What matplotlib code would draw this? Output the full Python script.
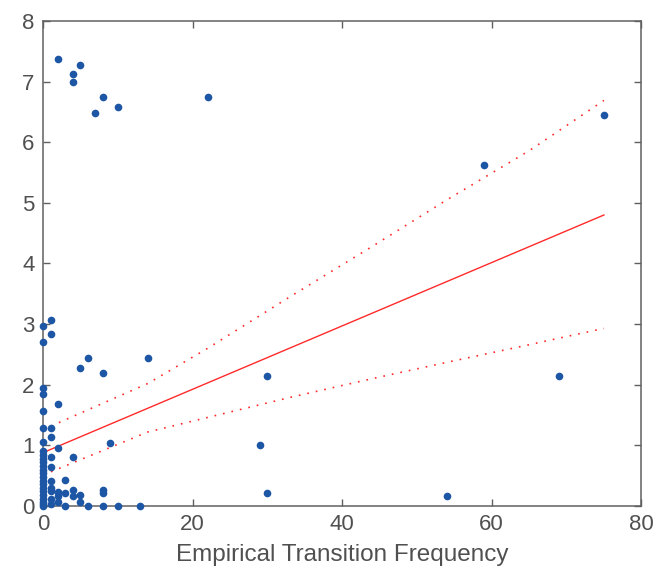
import numpy as np
import matplotlib
matplotlib.use('Agg')
import matplotlib.pyplot as plt

plt.rcParams['font.family'] = ['Liberation Sans', 'DejaVu Sans']

# scatter data
freq = [0] * 24 + [1] * 11 + [2] * 6 + [3] * 3 + [4] * 5 + [5] * 4 + [6] * 2 + [7] \
    + [8] * 5 + [9] + [10] * 2 + [13, 14, 22, 29, 30, 30, 54, 59, 69, 75]
score = [2.97, 2.71, 1.94, 1.84, 1.56, 1.28, 1.06, 0.90, 0.84, 0.78, 0.72, 0.66,
         0.60, 0.54, 0.48, 0.42, 0.36, 0.30, 0.24, 0.18, 0.12, 0.07, 0.03, 0.0,
         3.07, 2.83, 1.29, 1.13, 0.80, 0.65, 0.42, 0.29, 0.24, 0.12, 0.04,
         7.37, 1.68, 0.95, 0.23, 0.16, 0.07,
         0.43, 0.22, 0.0,
         7.13, 7.00, 0.81, 0.26, 0.16,
         7.27, 2.27, 0.18, 0.07,
         2.44, 0.0,
         6.49,
         6.74, 2.19, 0.26, 0.21, 0.0,
         1.04,
         6.58, 0.0,
         0.0, 2.44, 6.74, 1.00, 2.15, 0.21, 0.17, 5.62, 2.15, 6.45]

# fitted line and confidence band
fit_x = [0, 75]
fit_y = [0.88, 4.80]
band_x = [0, 14, 22, 33, 44, 54, 65, 75]
band_hi = [1.26, 2.02, 2.60, 3.45, 4.28, 5.05, 5.86, 6.69]
band_lo = [0.51, 1.22, 1.46, 1.79, 2.10, 2.37, 2.66, 2.93]

xticks = [0, 20, 40, 60, 80]
yticks = [0, 1, 2, 3, 4, 5, 6, 7, 8]

fig = plt.figure(figsize=(6.6, 5.74), dpi=100)
ax = fig.add_axes([0.0652, 0.1185, 0.9065, 0.8449])

ax.plot(freq, score, 'o', color='#1d56a5', markersize=5.5, markeredgewidth=0,
        clip_on=False, zorder=3)
ax.plot(fit_x, fit_y, '-', color='#ff2a2a', lw=1.0)
# dotted confidence bounds
ax.plot(band_x, band_hi, color='#ff2a2a', lw=1.2, dashes=(1, 4.2))
ax.plot(band_x, band_lo, color='#ff2a2a', lw=1.2, dashes=(1, 4.2))

ax.set_xlim(0, 80)
ax.set_ylim(0, 8)
ax.set_xticks(xticks)
ax.set_yticks(yticks)

grey = '#505050'
for s in ax.spines.values():
    s.set_color('#606060')
    s.set_linewidth(1.1)
ax.tick_params(direction='in', length=5, width=1.0, color='#606060',
               top=True, right=True, labelsize=16, labelcolor=grey, pad=6)
ax.set_xlabel('Empirical Transition Frequency', fontsize=17.5, color=grey,
              labelpad=6)

fig.savefig('out.png', dpi=100)
